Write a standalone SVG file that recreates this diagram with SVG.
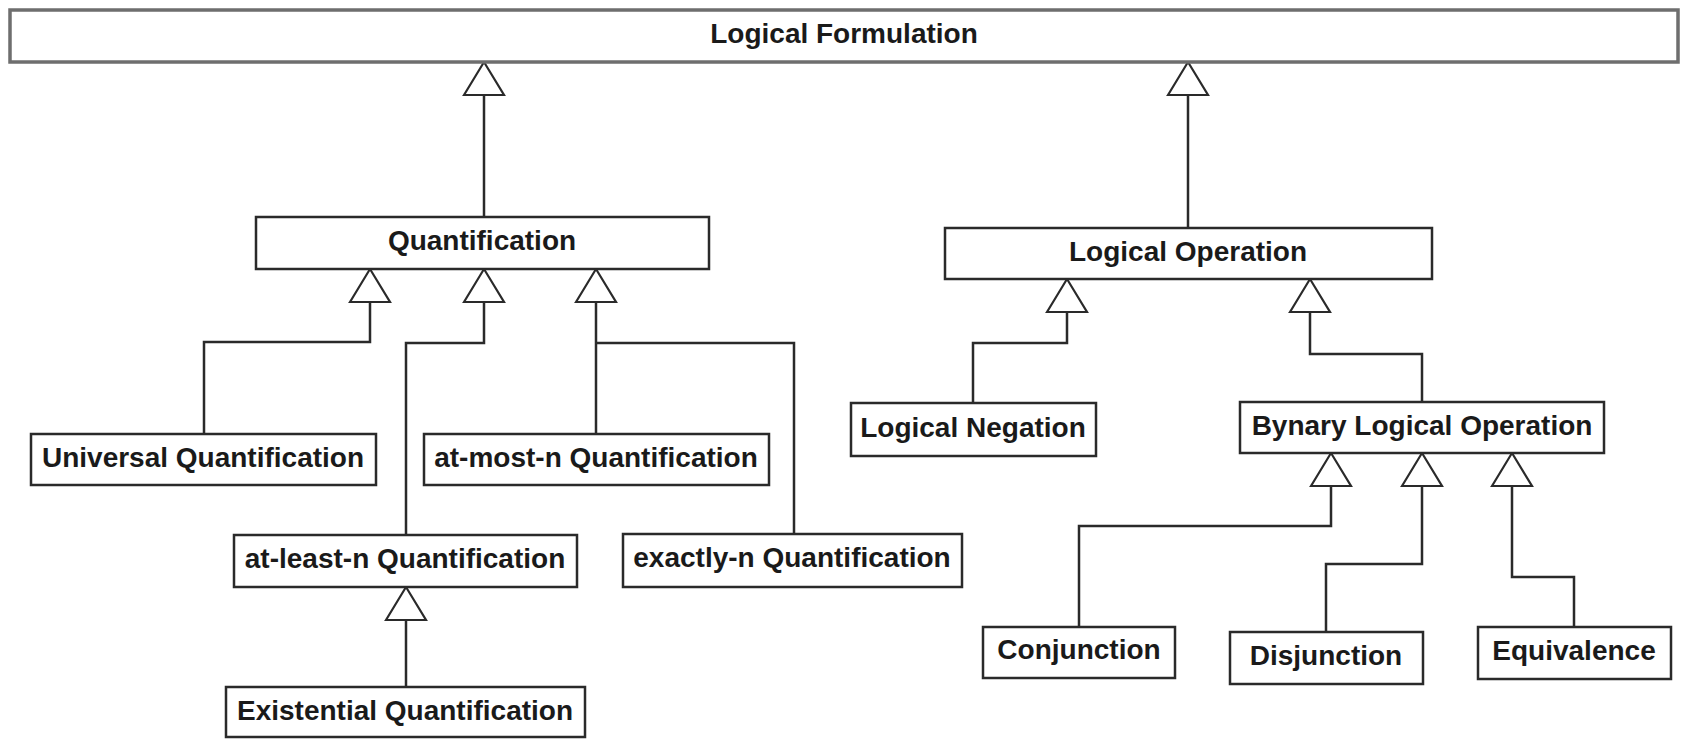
<svg xmlns="http://www.w3.org/2000/svg" width="1683" height="739" viewBox="0 0 1683 739">
<style>
.box{fill:#fff;stroke:#2a2a2a;stroke-width:2.5}
.top{fill:#fff;stroke:#6e6e6e;stroke-width:3.5}
.lbl{font-family:"Liberation Sans",Arial,sans-serif;font-weight:bold;font-size:28px;fill:#1a1a1a;text-anchor:middle}
.c{fill:none;stroke:#2a2a2a;stroke-width:2.5;marker-end:url(#gen)}
</style>
<defs>
<marker id="gen" markerUnits="userSpaceOnUse" viewBox="-2 -2 38 44" markerWidth="38" markerHeight="44" refX="33" refY="20" orient="auto">
<polygon points="0,0 33,20 0,40" fill="#fff" stroke="#2a2a2a" stroke-width="2.2" stroke-linejoin="miter"/>
</marker>
</defs>
<rect width="1683" height="739" fill="#fff"/>
<g id="connectors">
<path class="c" d="M484 217V62"/>
<path class="c" d="M1188 228V62"/>
<path class="c" d="M204 434V342H370V269"/>
<path class="c" d="M406 535V343H484V269"/>
<path class="c" d="M596 434V269"/>
<path fill="none" stroke="#2a2a2a" stroke-width="2.5" d="M794 534V343H596"/>
<path class="c" d="M406 687V587"/>
<path class="c" d="M973 403V343H1067V279"/>
<path class="c" d="M1422 402V354H1310V279"/>
<path class="c" d="M1079 627V526H1331V453"/>
<path class="c" d="M1326 632V564H1422V453"/>
<path class="c" d="M1574 627V577H1512V453"/>
</g>
<g id="logical-formulation"><rect class="top" x="10" y="10" width="1668" height="52"/><text class="lbl" x="844" y="43">Logical Formulation</text></g>
<g id="quantification"><rect class="box" x="256" y="217" width="453" height="52"/><text class="lbl" x="482" y="250">Quantification</text></g>
<g id="logical-operation"><rect class="box" x="945" y="228" width="487" height="51"/><text class="lbl" x="1188" y="261">Logical Operation</text></g>
<g id="universal-quantification"><rect class="box" x="31" y="434" width="345" height="51"/><text class="lbl" x="203" y="467">Universal Quantification</text></g>
<g id="at-most-n-quantification"><rect class="box" x="424" y="434" width="345" height="51"/><text class="lbl" x="596" y="467">at-most-n Quantification</text></g>
<g id="at-least-n-quantification"><rect class="box" x="234" y="535" width="343" height="52"/><text class="lbl" x="405" y="568">at-least-n Quantification</text></g>
<g id="existential-quantification"><rect class="box" x="226" y="687" width="359" height="50"/><text class="lbl" x="405" y="720">Existential Quantification</text></g>
<g id="exactly-n-quantification"><rect class="box" x="623" y="534" width="339" height="53"/><text class="lbl" x="792" y="567">exactly-n Quantification</text></g>
<g id="logical-negation"><rect class="box" x="851" y="403" width="245" height="53"/><text class="lbl" x="973" y="437">Logical Negation</text></g>
<g id="bynary-logical-operation"><rect class="box" x="1240" y="402" width="364" height="51"/><text class="lbl" x="1422" y="435">Bynary Logical Operation</text></g>
<g id="conjunction"><rect class="box" x="983" y="627" width="192" height="51"/><text class="lbl" x="1079" y="659">Conjunction</text></g>
<g id="disjunction"><rect class="box" x="1230" y="632" width="193" height="52"/><text class="lbl" x="1326" y="665">Disjunction</text></g>
<g id="equivalence"><rect class="box" x="1478" y="627" width="193" height="52"/><text class="lbl" x="1574" y="660">Equivalence</text></g>
</svg>
